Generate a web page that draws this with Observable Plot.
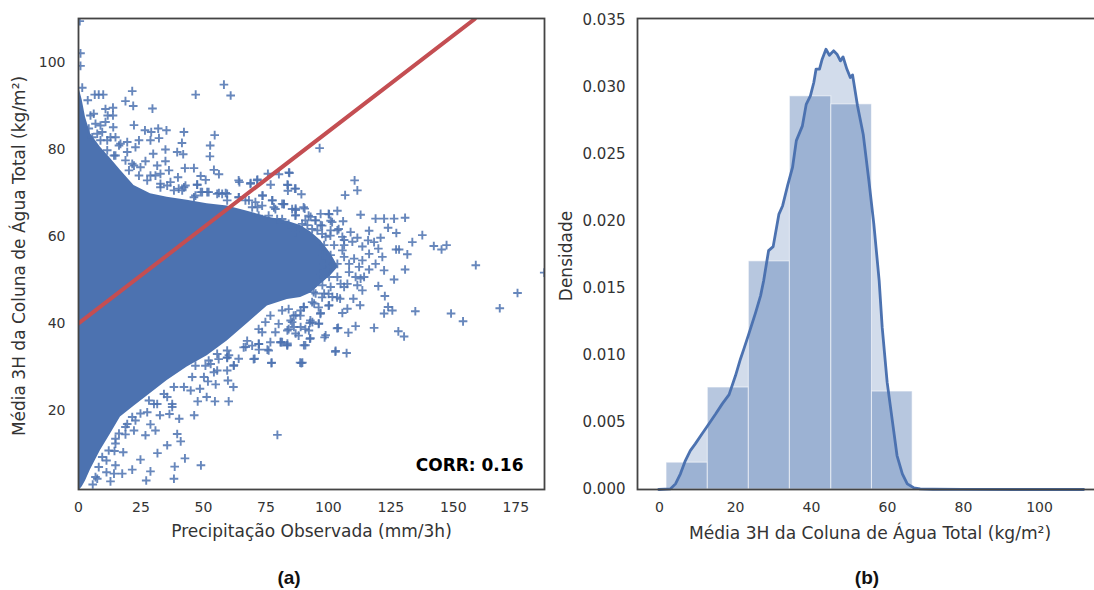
<!DOCTYPE html>
<html>
<head>
<meta charset="utf-8">
<script src="https://cdn.jsdelivr.net/npm/d3@7"></script>
<script src="https://cdn.jsdelivr.net/npm/@observablehq/plot@0.6"></script>
<style>
html,body{margin:0;padding:0;background:#fff;}
#root{position:relative;width:1094px;height:590px;overflow:hidden;font-family:"DejaVu Sans",sans-serif;}
#root svg{position:absolute;top:0;background:transparent;}
.cap{position:absolute;top:567px;font:bold 19px "Liberation Sans",Arial,sans-serif;color:#111;transform:translateX(-50%);}
</style>
</head>
<body>
<div id="root"></div>
<script>
const BLUE = "#4c72b0", RED = "#c44e52", INK = "#333";

// Panel (a): solid core of the scatter, read as an envelope
const coreX      = [0,0.5,1.5,2.8,4.8,8.8,12.8,16.8,22.2,28.8,35.5,43.5,51.5,59.5,67.6,75.6,83.6,88.9,93,97,101,104];
const coreTop    = [94,93.5,91.3,87.4,83.6,80.5,77.9,75.2,71.7,69.8,69,68.3,67.5,67,65.8,64.5,63.5,62.5,61,59,56,53];
const coreBottom = [1.8,1.8,2.5,3.8,6.4,10.8,14.6,18.5,21,23.9,26.9,30,32.6,36,40,44,45.5,46,47,49,51,53];

// Panel (a): individually visible points, [precipitation, water column]
const scatterPoints = [
[0.5,109.5],[0.8,102.1],[0.8,99.2],[1.5,94.2],[3.7,91.3],[6.5,92.6],[8.1,92.6],[9.9,92.6],[21.5,93.4],[18.8,91.1],
[21.9,90],[29.6,89.4],[46.9,92.6],[58.2,94.9],[60.9,92.4],[22.2,85.6],[26.6,84.4],[29.1,84],[31.9,84.8],[35.2,84.4],
[42.2,84],[54.5,83.3],[52.7,80.9],[52.6,78.4],[41.4,81.5],[32.2,82.6],[28.8,82.1],[34.8,80],[39.5,79.4],[41.9,78.9],
[29.9,79],[26.8,77.3],[42.6,75.7],[46.2,75.7],[39.8,73.6],[48.9,73.9],[50.9,73],[54.2,75.3],[56.2,74.3],[64.4,72.5],
[68.9,72.3],[71.6,73.1],[75.8,74.4],[80.2,74.3],[84.4,74.6],[76.9,71.9],[83.6,71.9],[86.9,71],[73.6,69.4],[77.6,68.3],
[82.2,67.5],[86.9,66.1],
[10.8,89.3],[13.8,89.6],[11.7,87.8],[13.8,87.8],[6.1,88.2],[13.9,85.1],[10.8,86.3],[8.8,85.5],[7.5,83.6],[11.5,82.1],
[14.8,82.8],[16.8,81.3],[19.5,81.7],[24.2,82.1],[22.8,80.5],[19.5,79.4],[14.2,78.6],[21.5,76.7],[24.2,74],[28.8,74],
[32.8,74.4],[31.5,76.3],[34.8,77.3],[36.2,75.2],[36.8,72.5],[32.8,72.1],[42.2,71.3],[47.5,71.9],[51.5,70.2],[56.2,70],
[58.9,70],[48.9,70.2],[59.5,68.3],[64.2,69],[68.2,68.3],[71.6,66.7],[78.2,66.7],
[4.8,87.8],[6.8,85.9],[4.1,84.8],[9.5,84],[5.5,82.8],[8.8,82.1],[12.8,82.8],[16.2,80.9],[11.5,79.8],[14.8,78.6],
[18.8,77.5],[22.2,76.3],[20.2,75.2],[24.8,75.9],[27.5,72.9],[30.8,74],[32.8,71.3],[35.5,71.7],[38.2,70.6],[41.5,70.6],[46.2,69],
[5.7,3],[7.5,4.3],[11.2,8.5],[14.4,10.7],[17.9,10.4],[14.8,7.4],[11.2,5.8],[14.2,5.5],[17.5,5.5],[12.8,3.7],
[21.5,6.4],[24.8,8.7],[27.1,3.9],[28.8,6],[31.6,10.2],[35.5,12],[38.2,4.3],[38.5,7.1],[42.6,9],[49,7.4],
[39.5,14.6],[40.9,12.9],[26.8,14.3],[30.8,15.4],[28.8,16.8],[32.6,18.9],[36.4,19.2],[40.3,18.1],[46.3,18.9],[47.7,22.1],
[51.3,23.1],[54.6,22.1],[60.1,22.1],[62,25.4],[59.8,26.9],[59.5,29.2],[64.1,31.9],[62.2,30.4],[70.5,31.9],[77.3,31],
[75.6,34],[72.2,34],[79.6,14.4],[83.6,35],[80.9,35.7],[88.7,31],[37.5,21.5],
[18.8,14.5],[22.2,15.4],[22.8,17.7],[18.8,16.2],[14.8,12.4],[27.5,19.6],[30.2,21.5],[37.5,20.8],[35.5,23.1],[44.9,24.6],
[48.6,25],[51.8,26.7],[54.9,26],[54.2,28.8],[59.5,32.1],[66.9,34.6],[72.2,35.3],
[6.8,4.7],[8.1,7],[9.5,9.3],[12.1,10.8],[16.2,14.7],[14.8,13.5],[19.5,16.9],[21.5,18.5],[24.8,19.3],[28.2,22.3],
[31.5,21.5],[34.2,23.8],[38.2,25.4],[42.2,25.4],[45.5,27.7],[50.2,27.7],[52.9,30.7],[55.5,29.2],[60.2,32.7],
[96.5,80.3],[84.2,74.7],[110.5,72.9],[111.6,70.6],[106.7,69.5],[83.8,71.8],[83.8,70.5],[86.6,71],[89.2,69.7],[82.2,67.4],
[86.9,66.4],[90.5,66.4],[100.3,65.1],[103.6,65.9],[105.9,63.5],[100.9,63.6],[112.9,65],[118.9,64.1],[122.3,64.1],[126.3,64.1],
[130.7,64.3],[123.9,62],[127.2,60.8],[116.3,61.3],[137.6,60.3],[133.6,58.7],[142.2,57.8],[145.3,57],[147.3,58],[127.1,57],
[128.3,57],[131.6,55.9],[120,57.2],[121.6,55.3],[159,53.4],[186.4,51.7],[175.7,47],[168.6,43.5],[149.1,42.3],[153.9,40.5],
[134.8,42.8],[130.7,52.4],[126.3,50.1],[122.3,52.2],[120,48.6],[122.6,46.3],[123.9,43.8],[125.6,43],[122.3,42.3],[112.7,44.2],
[110,45.7],[113.6,47.6],[118.3,39],[110.9,39.4],[108,37.9],[103.9,39],[128,38.2],[130.3,37],[98.9,37.3],[92.6,36.5],
[90.2,35],[102.9,33.7],[107.3,33.2],[89.6,31],[96.2,40],[92.6,40.1],[105.6,42.4],[107.6,43.4],[96.9,42.4],[104.7,45.7],
[100.3,44.2],[118.9,53.7],[116.3,52.4],[114.3,50.7],[112.9,50.3],[110.3,54.9],[113.6,54.5],[116.3,56],[113.6,57.7],[120.9,59.7],
[118.3,58.7],[115.9,59.1],[111.6,59.7],[108.9,61],[106.3,59.2],[109.6,58.8],[106.3,58],[105.6,56.8],[106.3,55.3],[108.3,51.8],
[107.6,49.1],[104.9,49.1],[111.6,48.8],
[95.6,61.4],[98.9,59.9],[100.9,61.4],[103.6,61.4],[98.3,58],[102.3,58],[97.6,55.7],[100.9,55.7],[103.6,53.7],[98.3,53.7],
[100.9,53],[96.9,51.4],[100.3,50.7],[103.6,50.7],[97.6,48.8],[100.9,48.4],[94.9,46.9],[98.3,46.9],[101.6,46.1],[94.3,44.6],
[88.9,43],[86.9,41.9],[84.9,40.7],[86.2,39.2],[83.6,38.4],[88.9,39.2],[92.2,38.4],[93.6,40.3],[90.2,43.8],[83.6,35.4],
[80.9,35.7],[86.9,37.7],[94.9,63.7],[92.9,64.5],[96.9,65.2],[86.9,64.9],[91.6,62.6],[96.9,62.6],[105.6,59.9],[108.3,53.7],
[112.3,53],[110.9,50.7],[106.3,48.4],
[64.1,72.9],[68.8,72.1],[71.5,72.9],[73.7,69.4],[77.5,68.3],[81.5,67.5],[70.8,67.9],[73.5,67.1],[78.8,66.3],[85.5,66.3],
[90.1,66.7],[86.8,64.8],[92.1,64.8],[94.8,63.7],[97.5,62.5],[100.1,65.2],[101.5,63.3],[104.1,61.7],[76.1,64.8],[81.5,64],
[84.1,62.9],[89.5,62.9],[93.5,61.7],[97.5,60.6],[100.8,60.2],[64.1,69],[57.5,69.8],[59.5,69.8],[55.5,69.8],[52.1,70.2],
[49.5,70.2],[46.8,69.4],[42.8,71.7],[47.5,71.9],[40.1,71],[66.8,68.3],[69.5,66.7],[72.1,64.8],[79.5,64],[86.8,61],[90.8,63.7],
[70.1,31.8],[77.2,30.9],[89.2,30.9],[62.1,30.3],[59.5,32.2],[56.1,31.8],[52.1,31.5],[66.1,34.5],[72.1,35.3],[76.1,33.8],
[76.8,35.7],[83.5,35],[90.8,35],[92.8,36.6],[98.5,36.8],[102.8,33.5],[88.1,37.2],[81.5,35.7],[69.5,34.9],[73.5,38],
[78.8,38],[84.1,38.7],[90.8,38.7],[92.8,40.7],[96.1,39.9],[103.5,38.9],[96.8,42.2],[96.1,43.7],[100.1,44.1],[90.1,43.7],
[86.1,41.8],[85.5,40.3],[84.1,43.3],[88.8,41.8],[80.1,39.9],[74.8,40.3],[76.8,41.8],[81.5,43],[94.1,47.2],[93.5,44.9],
[97.5,46],[103.5,46],[100.1,46.8],[72.1,38.7],[67.5,36],[59.5,33.8],[55.5,33],[50.8,30.3],[46.8,30.3]
];

// Panel (a): fit line end points
const fitX = [0, 158.6];
const fitY = [40, 110];

// Panel (b): histogram
const binEdges = [1.84,12.7,23.5,34.3,45.2,55.9,66.6];
const binHeights = [0.002,0.0076,0.017,0.0293,0.0287,0.0073];

// Panel (b): density curve
const kdeX = [-0.2,2.9,4.2,5.5,6.8,8.1,9.4,11.2,12.7,14.8,16.5,18.3,20,21.3,22.2,23.5,25.3,26.6,27.4,28.7,29.9,31.4,32.4,33.7,35,36,37.6,38.6,39.7,40.6,41.2,42.1,42.8,43.8,44.7,45.8,46.7,47.6,48.3,49.3,50.2,50.8,52.1,53.6,55.1,56.4,57.8,58.6,59.9,61.2,62.5,63.9,65.2,66.9,68.6,71.9,79.9,95,111.6];
const kdeY = [0,0.00005,0.00042,0.00117,0.00216,0.0029,0.0034,0.00415,0.00477,0.00564,0.00638,0.00707,0.00849,0.00973,0.01048,0.0116,0.0132,0.01445,0.01556,0.0178,0.0181,0.0205,0.02115,0.02264,0.024,0.026,0.0271,0.0287,0.02934,0.03033,0.03133,0.03133,0.03207,0.03281,0.03236,0.03269,0.03244,0.03194,0.03224,0.03133,0.0307,0.0309,0.0286,0.02648,0.023,0.01978,0.01556,0.01208,0.008,0.00526,0.00253,0.00117,0.00042,0.00013,0.00004,0.00002,0.00001,0,0];

const xTicksA = [0,25,50,75,100,125,150,175];
const yTicksA = [20,40,60,80,100];
const xTicksB = [0,20,40,60,80,100];
const yTicksB = [0,0.005,0.01,0.015,0.02,0.025,0.03,0.035];

const core = coreX.map((x,i)=>({x, y1:coreTop[i], y2:coreBottom[i]}));
const fit = fitX.map((x,i)=>({x, y:fitY[i]}));
const bins = binHeights.map((h,i)=>({x1:binEdges[i], x2:binEdges[i+1], h}));
const kde = kdeX.map((x,i)=>({x, y:kdeY[i]}));

const axisFont = {fontSize:14, fill:INK, tickSize:0};

const plotA = Plot.plot({
  width:560, height:590,
  marginLeft:78, marginRight:16, marginTop:18, marginBottom:101,
  style:{fontFamily:'"DejaVu Sans",sans-serif', background:"transparent", overflow:"visible"},
  x:{domain:[0,186.5], label:null},
  y:{domain:[1.84,110.1], label:null},
  marks:[
    Plot.areaY(core,{x:"x", y1:"y1", y2:"y2", fill:BLUE, curve:"linear"}),
    Plot.dot(scatterPoints,{x:d=>d[0], y:d=>d[1], symbol:"plus", r:2.9, stroke:BLUE, fill:"none", strokeWidth:1.9, strokeOpacity:0.85, clip:true}),
    Plot.line(fit,{x:"x", y:"y", stroke:RED, strokeWidth:4, clip:true}),
    Plot.frame({stroke:"#444", strokeWidth:1.8}),
    Plot.axisX({ticks:xTicksA, tickPadding:13, label:null, ...axisFont}),
    Plot.axisY({ticks:yTicksA, tickPadding:13, label:null, ...axisFont}),
    Plot.text(["Precipitação Observada (mm/3h)"],{frameAnchor:"bottom", dy:47, fontSize:17, fill:INK, textAnchor:"middle"}),
    Plot.text(["Média 3H da Coluna de Água Total (kg/m²)"],{frameAnchor:"left", dx:-59, dy:2, rotate:-90, fontSize:17, fill:INK, textAnchor:"middle"}),
    Plot.text(["CORR: 0.16"],{frameAnchor:"bottom-right", dx:-21, dy:-19, fontSize:17, fontWeight:"bold", fill:"#000", textAnchor:"end"})
  ]
});
plotA.style.left = "0px";

const plotB = Plot.plot({
  width:552, height:590,
  marginLeft:87, marginRight:6, marginTop:18, marginBottom:101,
  style:{fontFamily:'"DejaVu Sans",sans-serif', background:"transparent", overflow:"visible"},
  x:{domain:[-5.8,115], label:null},
  y:{domain:[0,0.0351], label:null},
  marks:[
    Plot.areaY(kde,{x:"x", y:"y", fill:BLUE, fillOpacity:0.25}),
    Plot.rectY(bins,{x1:"x1", x2:"x2", y:"h", fill:BLUE, fillOpacity:0.4, stroke:"#fff", strokeOpacity:0.6, strokeWidth:1}),
    Plot.line(kde,{x:"x", y:"y", stroke:BLUE, strokeWidth:2.8}),
    Plot.frame({stroke:"#444", strokeWidth:1.8}),
    Plot.axisX({ticks:xTicksB, tickPadding:13, label:null, ...axisFont}),
    Plot.axisY({ticks:yTicksB, tickFormat:d=>d.toFixed(3), tickPadding:12, label:null, ...axisFont, fontSize:15}),
    Plot.text(["Média 3H da Coluna de Água Total (kg/m²)"],{frameAnchor:"bottom", dx:3, dy:49, fontSize:17.1, fill:INK, textAnchor:"middle"}),
    Plot.text(["Densidade"],{frameAnchor:"left", dx:-71, dy:2, rotate:-90, fontSize:17, fill:INK, textAnchor:"middle"})
  ]
});
plotB.style.left = "550px";

const root = document.getElementById("root");
root.append(plotA, plotB);
for (const [label,left] of [["(a)",289],["(b)",867]]) {
  const d = document.createElement("div");
  d.className = "cap";
  d.textContent = label;
  d.style.left = left + "px";
  root.append(d);
}
</script>
</body>
</html>
